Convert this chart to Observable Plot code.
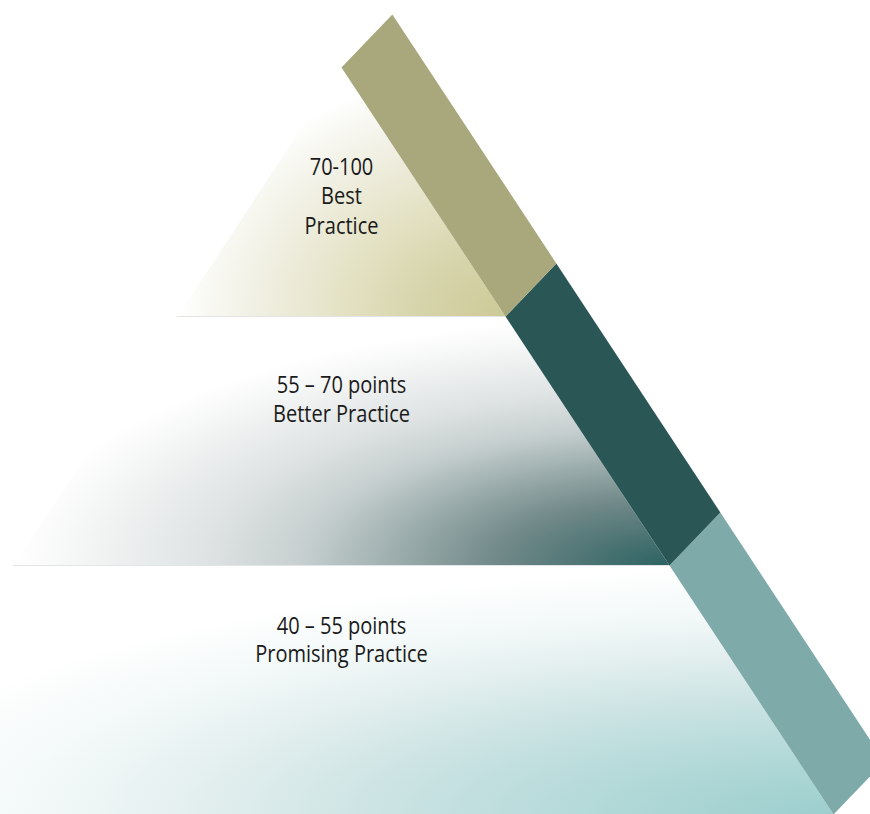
<!DOCTYPE html>
<html><head><meta charset="utf-8">
<script src="https://cdn.jsdelivr.net/npm/d3@7"></script>
<script src="https://cdn.jsdelivr.net/npm/@observablehq/plot@0.6"></script>
<style>html,body{margin:0;padding:0;background:#fff;overflow:hidden} svg{display:block}</style>
</head><body><div id="chart"></div>
<script>
// Tiers listed bottom to top
const tierRanges = ["40 – 55 points", "55 – 70 points", "70-100"];
const tierNames = ["Promising Practice", "Better Practice", "Best\nPractice"];
const tierLevels = [0, 1, 2];      // base level of each tier (apex = 3)
const apexLevel = 3;

// palette (styles): radial gradients centred on each tier's lower-right corner
const bandColors = ["#7eaaa9", "#2a5755", "#a8a87c"];
const tierStops = [
  [[0, "#9ccfce"], [0.22, "#b0d8d7"], [0.44, "#c9e2e2"], [0.64, "#e2eeee"], [0.8, "#f2f8f8"], [1, "#ffffff"]],
  [[0, "#2c6363"], [0.1, "#467070"], [0.26, "#708888"], [0.41, "#9aabab"], [0.56, "#c6cfcf"], [0.71, "#dfe3e3"], [0.85, "#eff1f1"], [1, "#ffffff"]],
  [[0, "#cdca98"], [0.26, "#d6d4aa"], [0.5, "#e4e2c4"], [0.75, "#f0efe2"], [0.93, "#fafaf6"], [1, "#ffffff"]]
];

const bandOffset = {dx: 0.31, dy: 0.213};

// Build geometry from the level data
const tierPolys = tierLevels.map(L => {
  const w0 = apexLevel - L, w1 = apexLevel - L - 1;
  return [{x: -w0, y: L}, {x: w0, y: L}, {x: w1, y: L + 1}, {x: -w1, y: L + 1}];
});
const bandPolys = tierLevels.map(L => {
  const a = {x: apexLevel - L - 1, y: L + 1}, b = {x: apexLevel - L, y: L};
  return [a, b, {x: b.x + bandOffset.dx, y: b.y + bandOffset.dy}, {x: a.x + bandOffset.dx, y: a.y + bandOffset.dy}];
});

const svgNS = "http://www.w3.org/2000/svg";
function defs() {
  const d = document.createElementNS(svgNS, "defs");
  tierStops.forEach((stops, i) => {
    const g = document.createElementNS(svgNS, "radialGradient");
    g.setAttribute("id", "tierGrad" + i);
    g.setAttribute("cx", "1"); g.setAttribute("cy", "1");
    g.setAttribute("fx", "1"); g.setAttribute("fy", "1");
    g.setAttribute("r", "1");
    stops.forEach(([o, c]) => {
      const s = document.createElementNS(svgNS, "stop");
      s.setAttribute("offset", o); s.setAttribute("stop-color", c);
      g.appendChild(s);
    });
    d.appendChild(g);
  });
  return d;
}

const marks = [defs];
tierPolys.forEach((poly, i) => {
  marks.push(Plot.line(poly, {x: "x", y: "y", fill: `url(#tierGrad${i})`, stroke: "none"}));
});
marks.push(Plot.ruleY(tierLevels.filter(L => L > 0), {
  y: d => d, x1: d => -(apexLevel - d), x2: d => apexLevel - d, stroke: "#e2e5e5", strokeWidth: 1.2
}));
bandPolys.forEach((poly, i) => {
  marks.push(Plot.line(poly, {x: "x", y: "y", fill: bandColors[i], stroke: "none"}));
});
const labelOffsets = [0.705, 0.671, 0.488];
const labelLineHeights = [1.24, 1.24, 1.28];
tierLevels.forEach((L, i) => {
  marks.push(Plot.text([{x: 0, y: L + labelOffsets[i], text: tierRanges[i] + "\n" + tierNames[i]}], {
    x: "x", y: "y", text: "text", lineHeight: labelLineHeights[i],
    fontFamily: "'Open Sans', sans-serif",
    fontSize: 23, fill: "#1a1a1a"
  }));
});

const chart = Plot.plot({
  width: 870, height: 814,
  margin: 0,
  x: {domain: [-341 / 164, 529 / 164], range: [0, 870], axis: null},
  y: {domain: [0, 3], range: [814, 67], axis: null},
  style: {overflow: "hidden", background: "#ffffff"},
  marks
});
// narrow (condensed) lettering like the original
chart.querySelectorAll("text").forEach(el => {
  const t = el.getAttribute("transform");
  if (t) el.setAttribute("transform", t + " scale(0.87,1)");
  else {
    const x = +el.getAttribute("x") || 0, y = +el.getAttribute("y") || 0;
    el.setAttribute("transform", `translate(${x},${y}) scale(0.87,1) translate(${-x},${-y})`);
  }
});
document.getElementById("chart").appendChild(chart);
</script>
</body></html>
